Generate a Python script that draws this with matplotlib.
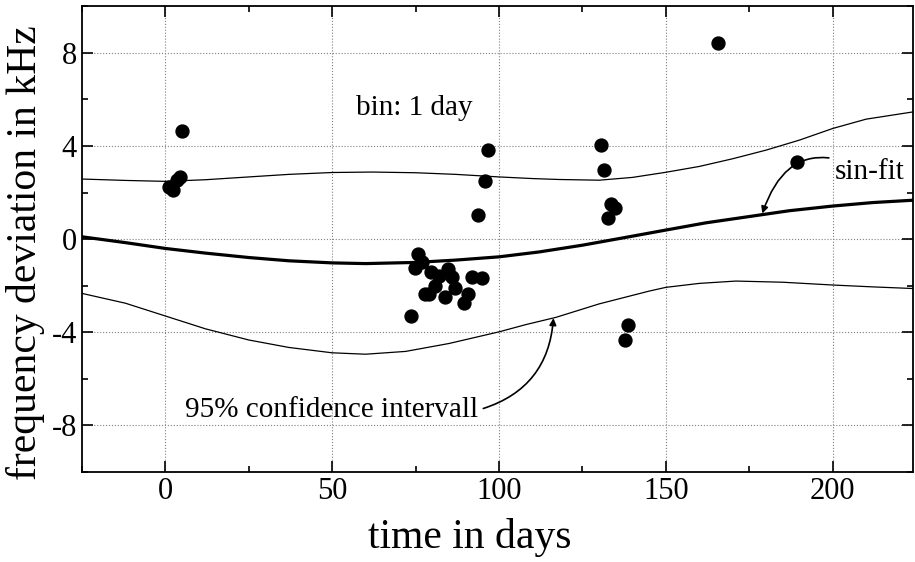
import matplotlib
matplotlib.use("Agg")
import matplotlib.pyplot as plt
from matplotlib.ticker import MultipleLocator

plt.rcParams['font.family'] = ['Liberation Serif', 'DejaVu Serif']
plt.rcParams['axes.unicode_minus'] = False

# measured points, 1 day bins
days = [1.2, 2.2, 3.5, 4.5, 5.0,
        73.7, 74.9, 75.7, 76.9, 77.7, 78.9, 79.7, 80.9, 81.9, 83.7,
        84.7, 85.9, 86.7, 89.6, 90.8, 91.8, 94.8,
        93.6, 95.8, 96.6,
        130.6, 131.6, 132.6, 133.4, 134.8, 137.6, 138.6,
        165.7, 189.3]
freq_dev = [2.25, 2.12, 2.55, 2.65, 4.65,
            -3.29, -1.26, -0.64, -1.0, -2.36, -2.36, -1.43, -2.0, -1.57, -2.5,
            -1.29, -1.61, -2.1, -2.74, -2.36, -1.61, -1.69,
            1.03, 2.5, 3.83,
            4.03, 2.97, 0.91, 1.49, 1.34, -4.34, -3.67,
            8.43, 3.33]

# sin-fit and 95% band
fit_x = [-25, -12, 0, 12, 25, 37, 50, 60, 75, 87, 100, 112, 125, 137, 150,
         162, 175, 187, 200, 212, 224]
fit_y = [0.1, -0.15, -0.4, -0.6, -0.79, -0.93, -1.02, -1.05, -1.0, -0.9,
         -0.76, -0.55, -0.26, 0.05, 0.39, 0.7, 0.97, 1.22, 1.42, 1.57, 1.67]

up_x = [-25, -12, 0, 12, 25, 37, 50, 62, 75, 87, 100, 110, 118, 130, 140,
        150, 160, 170, 180, 190, 200, 210, 224]
up_y = [2.58, 2.52, 2.48, 2.55, 2.67, 2.78, 2.86, 2.88, 2.85, 2.78, 2.67,
        2.6, 2.56, 2.53, 2.65, 2.87, 3.12, 3.45, 3.82, 4.25, 4.75, 5.15, 5.46]

lo_x = [-25, -12, 0, 12, 25, 37, 50, 60, 72, 85, 100, 108, 117, 130, 145,
        150, 160, 171, 185, 200, 212, 224]
lo_y = [-2.33, -2.75, -3.3, -3.85, -4.33, -4.65, -4.88, -4.94, -4.82, -4.48,
        -3.98, -3.67, -3.36, -2.78, -2.23, -2.07, -1.9, -1.8, -1.85, -1.97,
        -2.05, -2.12]

fig = plt.figure(figsize=(9.15, 5.62), dpi=100)
ax = fig.add_axes([0.0896, 0.160, 0.908, 0.829])

ax.plot(fit_x, fit_y, color='black', lw=2.3)
ax.plot(up_x, up_y, color='black', lw=0.9)
ax.plot(lo_x, lo_y, color='black', lw=0.9)
ax.plot(days, freq_dev, 'o', color='black', ms=9.3, zorder=3)

ax.set_xlim(-25, 224)
ax.set_ylim(-10, 10)
ax.xaxis.set_major_locator(MultipleLocator(50))
ax.xaxis.set_minor_locator(MultipleLocator(25))
ax.yaxis.set_major_locator(MultipleLocator(4))
ax.yaxis.set_minor_locator(MultipleLocator(2))
ax.grid(True, which='major', linestyle=':', color='gray', lw=0.8)
ax.tick_params(which='both', direction='in', top=True, right=True,
               labelsize=22, width=1.2)
ax.tick_params(which='major', length=8)
ax.tick_params(which='minor', length=4)
for s in ax.spines.values():
    s.set_linewidth(1.3)

ax.set_xlabel('time in days', fontsize=30)
ax.set_ylabel('frequency deviation in kHz', fontsize=30)
ax.xaxis.set_label_coords(0.467, -0.099, transform=ax.transAxes)
ax.yaxis.set_label_coords(-0.045, 0.472, transform=ax.transAxes)

ax.text(57, 5.65, 'bin: 1 day', fontsize=21, va='center', ha='left')
ax.annotate('sin-fit', xy=(178.9, 1.1), xytext=(200.5, 2.87),
            fontsize=21, va='center', ha='left',
            arrowprops=dict(arrowstyle='-|>', color='black', lw=1.2,
                            shrinkA=2, shrinkB=0, mutation_scale=10,
                            connectionstyle='arc3,rad=0.6'))
ax.annotate('95% confidence intervall', xy=(116.3, -3.39), xytext=(5.8, -7.34),
            fontsize=21, va='center', ha='left',
            arrowprops=dict(arrowstyle='-|>', color='black', lw=1.2,
                            shrinkA=2, shrinkB=0, mutation_scale=10,
                            connectionstyle='arc3,rad=0.35',
                            relpos=(1.0, 0.5)))

fig.savefig('out.png', dpi=100)
